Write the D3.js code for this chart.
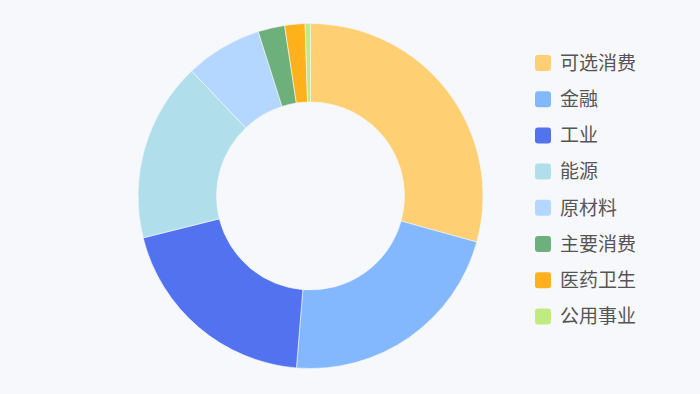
<!DOCTYPE html>
<html><head><meta charset="utf-8">
<script src="https://cdn.jsdelivr.net/npm/d3@7/dist/d3.min.js"></script>
<style>html,body{margin:0;padding:0;background:#f7f8fc;}svg{display:block;}</style>
</head><body><svg id="c" width="700" height="394"></svg>
<script>
const categories = ["可选消费","金融","工业","能源","原材料","主要消费","医药卫生","公用事业"];
const values = [29.3, 22.0, 19.8, 16.8, 7.2, 2.5, 1.9, 0.5];
const colors = ["#FFCF73","#83B8FF","#5272F0","#B0DEEA","#B3D7FF","#6EB07C","#FFB11C","#BFEB80"];

const svg = d3.select("#c");
const cx = 310.5, cy = 196, rOuter = 172.5, rInner = 94;
const data = categories.map((c,i)=>({name:c, value:values[i], color:colors[i]}));
const pie = d3.pie().value(d=>d.value).sort(null);
const arc = d3.arc().innerRadius(rInner).outerRadius(rOuter);
const g = svg.append("g").attr("transform",`translate(${cx},${cy})`);
g.selectAll("path").data(pie(data)).join("path")
  .attr("d",arc).attr("fill",d=>d.data.color)
  .attr("stroke","#f7f8fc").attr("stroke-width",0.6);

const lg = svg.append("g").attr("transform","translate(535,55)");
const row = lg.selectAll("g").data(data).join("g")
  .attr("transform",(d,i)=>`translate(0,${i*36.2})`);
row.append("rect").attr("width",16).attr("height",16).attr("rx",3).attr("fill",d=>d.color);
row.append("text").attr("x",25).attr("y",8).attr("dy","0.36em")
  .attr("font-family","'Noto Sans CJK SC', sans-serif").attr("font-size",19)
  .attr("fill","#555").text(d=>d.name);
</script></body></html>
